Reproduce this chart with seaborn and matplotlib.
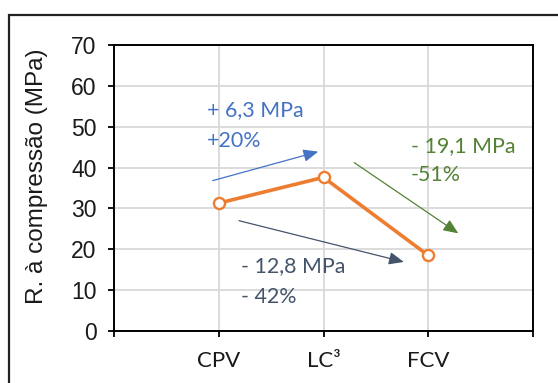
import matplotlib
matplotlib.use("Agg")
import matplotlib.pyplot as plt
import matplotlib.transforms as mtransforms
import seaborn as sns
import pandas as pd
from matplotlib.patches import Rectangle

categories = ["CPV", "LC³", "FCV"]
values = [31.3, 37.6, 18.5]
y_ticks = [0, 10, 20, 30, 40, 50, 60, 70]
ylabel = "R. à compressão (MPa)"
ann_blue = ["+ 6,3 MPa", "+20%"]
ann_green = ["- 19,1 MPa", "-51%"]
ann_gray = ["- 12,8 MPa", "- 42%"]

sns.set_theme(style="white")
plt.rcParams["font.family"] = ["Liberation Sans", "DejaVu Sans"]

W, H = 558, 383
fig = plt.figure(figsize=(W / 100, H / 100), dpi=100)
L, R, T, B = 114, 533, 45, 331
ax = fig.add_axes([L / W, 1 - B / H, (R - L) / W, (B - T) / H])

df = pd.DataFrame({"cat": categories, "val": values})
sns.lineplot(data=df, x="cat", y="val", ax=ax, color="#ED7D31", linewidth=2.6,
             marker="o", markersize=8, markerfacecolor="white",
             markeredgecolor="#ED7D31", markeredgewidth=1.7, sort=False, zorder=5)

ax.set_xlim(-1, 3)
ax.set_ylim(0, 70)
ax.set_yticks(y_ticks)
ax.set_xticks([-1, 0, 1, 2, 3])
ax.set_xticklabels([""] + categories + [""], fontfamily="Lato", fontsize=16)
for lbl in ax.get_yticklabels():
    lbl.set_fontsize(16.5)

# shift category labels slightly as in the reference
shifts = [0, 6, -2, -12, 0]
for lbl, dx in zip(ax.get_xticklabels(), shifts):
    lbl.set_transform(lbl.get_transform() + mtransforms.ScaledTranslation(dx / 100, 0, fig.dpi_scale_trans))

# grid
for yv in y_ticks[1:-1]:
    ax.axhline(yv, color="#d9d9d9", lw=1.3, zorder=0)
for xv in range(len(categories)):
    ax.axvline(xv, color="#d9d9d9", lw=1.3, zorder=0)

for s in ax.spines.values():
    s.set_visible(True)
    s.set_color("black")
    s.set_linewidth(1.4)
ax.tick_params(axis="both", which="major", direction="out", length=4.5, width=1.3,
               color="black", bottom=True, left=True)
ax.tick_params(axis="y", pad=8, labelcolor="#1a1a1a")
ax.tick_params(axis="x", pad=10, labelcolor="#1a1a1a")
ax.set_xlabel("")
ax.set_ylabel(ylabel, fontsize=17.5, color="#1a1a1a", va="center")
ax.yaxis.set_label_coords((37 - L) / (R - L), (B - 176.5) / (B - T))


def arrow(x0, y0, x1, y1, color):
    ax.annotate("", xy=(x1, y1), xytext=(x0, y0),
                arrowprops=dict(arrowstyle="-|>,head_length=0.9,head_width=0.38",
                                mutation_scale=10, color=color, lw=0.9,
                                shrinkA=0, shrinkB=0), zorder=4)


arrow(-0.058, 36.8, 0.950, 43.9, "#4472C4")
arrow(1.294, 41.2, 2.287, 23.9, "#548235")
arrow(0.193, 27.0, 1.767, 16.9, "#44546A")

tkw = dict(fontfamily="Lato", fontsize=15.4, ha="left", va="center")
ax.text(-0.112, 54.1, ann_blue[0], color="#4472C4", **tkw)
ax.text(-0.112, 46.5, ann_blue[1], color="#4472C4", **tkw)
ax.text(1.832, 45.3, ann_green[0], color="#548235", **tkw)
ax.text(1.832, 38.1, ann_green[1], color="#548235", **tkw)
ax.text(0.210, 15.8, ann_gray[0], color="#44546A", **tkw)
ax.text(0.210, 8.4, ann_gray[1], color="#44546A", **tkw)

# outer frame
fig.patches.append(Rectangle((9 / W, -0.2), 2.0, 1.2 - 15 / H, transform=fig.transFigure,
                             fill=False, edgecolor="#222222", lw=1.6, clip_on=False))

fig.savefig("out.png", dpi=100)
